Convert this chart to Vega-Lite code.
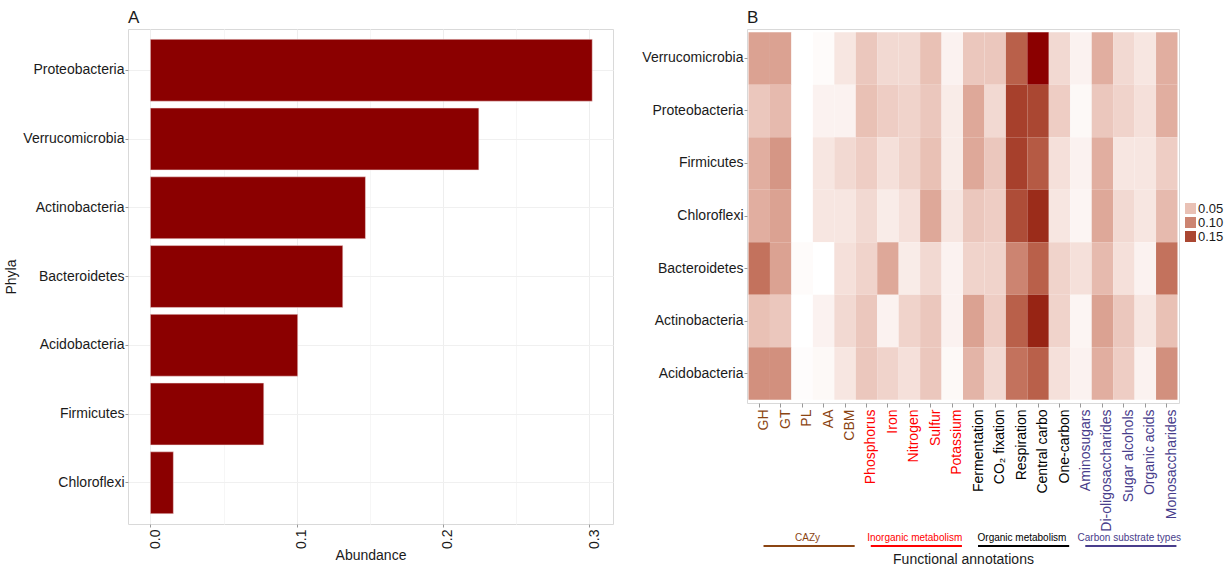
{
  "$schema": "https://vega.github.io/schema/vega-lite/v6.json",
  "background": "white",
  "padding": {"left": 4, "top": 8, "right": 0, "bottom": 0},
  "config": {
    "font": "Liberation Sans",
    "view": {"stroke": "#D9D9D9", "strokeWidth": 1},
    "axis": {"labelColor": "#1a1a1a", "titleColor": "#1a1a1a", "titleFontWeight": "normal", "tickColor": "#999999", "tickSize": 3, "domain": false},
    "title": {"fontWeight": "normal", "color": "#1a1a1a", "fontSize": 17, "anchor": "start", "frame": "group"}
  },
  "hconcat": [
    {
      "width": 485,
      "height": 495,
      "title": {"text": "A", "offset": 2},
      "data": {"values": [
        {"phylum": "Proteobacteria", "abundance": 0.302},
        {"phylum": "Verrucomicrobia", "abundance": 0.2245},
        {"phylum": "Actinobacteria", "abundance": 0.147},
        {"phylum": "Bacteroidetes", "abundance": 0.1315},
        {"phylum": "Acidobacteria", "abundance": 0.1007},
        {"phylum": "Firmicutes", "abundance": 0.0775},
        {"phylum": "Chloroflexi", "abundance": 0.0157}
      ]},
      "mark": {"type": "bar", "color": "#8B0000", "stroke": "#f3dede", "strokeWidth": 0.5},
      "encoding": {
        "y": {
          "field": "phylum", "type": "nominal",
          "sort": ["Proteobacteria", "Verrucomicrobia", "Actinobacteria", "Bacteroidetes", "Acidobacteria", "Firmicutes", "Chloroflexi"],
          "scale": {"paddingInner": 0.1, "paddingOuter": 0.15},
          "axis": {"title": "Phyla", "titleFontSize": 14, "labelFontSize": 14, "labelPadding": 1, "titlePadding": 4, "grid": true, "gridColor": "#F0F0F0"}
        },
        "x": {
          "field": "abundance", "type": "quantitative",
          "scale": {"domain": [-0.0153, 0.3162], "nice": false, "zero": false},
          "axis": {
            "title": "Abundance", "titleFontSize": 14, "titlePadding": 0,
            "values": [0, 0.05, 0.1, 0.15, 0.2, 0.25, 0.3],
            "labelExpr": "round(datum.value*100) % 10 === 0 ? format(datum.value, '.1f') : ''",
            "labelAngle": -90, "labelFontSize": 14, "labelPadding": 2, "labelOffset": 5,
            "grid": true,
            "gridColor": {"condition": {"test": "round(datum.value*100) % 10 === 0", "value": "#EEEEEE"}, "value": "#F6F6F6"},
            "tickColor": {"condition": {"test": "round(datum.value*100) % 10 === 0", "value": "#999999"}, "value": "transparent"}
          }
        }
      }
    },
    {
      "spacing": 1,
      "vconcat": [
        {
          "width": 432,
          "height": 374,
          "title": {"text": "B", "offset": 2},
          "data": {"values": [
            {"p":"Verrucomicrobia","f":"GH","v":0.075},{"p":"Verrucomicrobia","f":"GT","v":0.075},{"p":"Verrucomicrobia","f":"PL","v":0.0},{"p":"Verrucomicrobia","f":"AA","v":0.003},{"p":"Verrucomicrobia","f":"CBM","v":0.02},{"p":"Verrucomicrobia","f":"Phosphorus","v":0.045},{"p":"Verrucomicrobia","f":"Iron","v":0.03},{"p":"Verrucomicrobia","f":"Nitrogen","v":0.03},{"p":"Verrucomicrobia","f":"Sulfur","v":0.05},{"p":"Verrucomicrobia","f":"Potassium","v":0.01},{"p":"Verrucomicrobia","f":"Fermentation","v":0.045},{"p":"Verrucomicrobia","f":"CO₂ fixation","v":0.045},{"p":"Verrucomicrobia","f":"Respiration","v":0.13},{"p":"Verrucomicrobia","f":"Central carbo","v":0.19},{"p":"Verrucomicrobia","f":"One-carbon","v":0.03},{"p":"Verrucomicrobia","f":"Aminosugars","v":0.01},{"p":"Verrucomicrobia","f":"Di-oligosaccharides","v":0.065},{"p":"Verrucomicrobia","f":"Sugar alcohols","v":0.03},{"p":"Verrucomicrobia","f":"Organic acids","v":0.02},{"p":"Verrucomicrobia","f":"Monosaccharides","v":0.065},
            {"p":"Proteobacteria","f":"GH","v":0.045},{"p":"Proteobacteria","f":"GT","v":0.055},{"p":"Proteobacteria","f":"PL","v":0.0},{"p":"Proteobacteria","f":"AA","v":0.01},{"p":"Proteobacteria","f":"CBM","v":0.01},{"p":"Proteobacteria","f":"Phosphorus","v":0.05},{"p":"Proteobacteria","f":"Iron","v":0.04},{"p":"Proteobacteria","f":"Nitrogen","v":0.035},{"p":"Proteobacteria","f":"Sulfur","v":0.045},{"p":"Proteobacteria","f":"Potassium","v":0.015},{"p":"Proteobacteria","f":"Fermentation","v":0.07},{"p":"Proteobacteria","f":"CO₂ fixation","v":0.03},{"p":"Proteobacteria","f":"Respiration","v":0.155},{"p":"Proteobacteria","f":"Central carbo","v":0.15},{"p":"Proteobacteria","f":"One-carbon","v":0.04},{"p":"Proteobacteria","f":"Aminosugars","v":0.005},{"p":"Proteobacteria","f":"Di-oligosaccharides","v":0.045},{"p":"Proteobacteria","f":"Sugar alcohols","v":0.035},{"p":"Proteobacteria","f":"Organic acids","v":0.025},{"p":"Proteobacteria","f":"Monosaccharides","v":0.065},
            {"p":"Firmicutes","f":"GH","v":0.065},{"p":"Firmicutes","f":"GT","v":0.085},{"p":"Firmicutes","f":"PL","v":0.0},{"p":"Firmicutes","f":"AA","v":0.02},{"p":"Firmicutes","f":"CBM","v":0.03},{"p":"Firmicutes","f":"Phosphorus","v":0.04},{"p":"Firmicutes","f":"Iron","v":0.025},{"p":"Firmicutes","f":"Nitrogen","v":0.035},{"p":"Firmicutes","f":"Sulfur","v":0.05},{"p":"Firmicutes","f":"Potassium","v":0.015},{"p":"Firmicutes","f":"Fermentation","v":0.07},{"p":"Firmicutes","f":"CO₂ fixation","v":0.045},{"p":"Firmicutes","f":"Respiration","v":0.155},{"p":"Firmicutes","f":"Central carbo","v":0.135},{"p":"Firmicutes","f":"One-carbon","v":0.025},{"p":"Firmicutes","f":"Aminosugars","v":0.01},{"p":"Firmicutes","f":"Di-oligosaccharides","v":0.065},{"p":"Firmicutes","f":"Sugar alcohols","v":0.02},{"p":"Firmicutes","f":"Organic acids","v":0.02},{"p":"Firmicutes","f":"Monosaccharides","v":0.04},
            {"p":"Chloroflexi","f":"GH","v":0.065},{"p":"Chloroflexi","f":"GT","v":0.075},{"p":"Chloroflexi","f":"PL","v":0.0},{"p":"Chloroflexi","f":"AA","v":0.02},{"p":"Chloroflexi","f":"CBM","v":0.02},{"p":"Chloroflexi","f":"Phosphorus","v":0.03},{"p":"Chloroflexi","f":"Iron","v":0.015},{"p":"Chloroflexi","f":"Nitrogen","v":0.025},{"p":"Chloroflexi","f":"Sulfur","v":0.07},{"p":"Chloroflexi","f":"Potassium","v":0.02},{"p":"Chloroflexi","f":"Fermentation","v":0.045},{"p":"Chloroflexi","f":"CO₂ fixation","v":0.04},{"p":"Chloroflexi","f":"Respiration","v":0.145},{"p":"Chloroflexi","f":"Central carbo","v":0.17},{"p":"Chloroflexi","f":"One-carbon","v":0.02},{"p":"Chloroflexi","f":"Aminosugars","v":0.008},{"p":"Chloroflexi","f":"Di-oligosaccharides","v":0.07},{"p":"Chloroflexi","f":"Sugar alcohols","v":0.03},{"p":"Chloroflexi","f":"Organic acids","v":0.02},{"p":"Chloroflexi","f":"Monosaccharides","v":0.055},
            {"p":"Bacteroidetes","f":"GH","v":0.115},{"p":"Bacteroidetes","f":"GT","v":0.075},{"p":"Bacteroidetes","f":"PL","v":0.003},{"p":"Bacteroidetes","f":"AA","v":0.0},{"p":"Bacteroidetes","f":"CBM","v":0.025},{"p":"Bacteroidetes","f":"Phosphorus","v":0.035},{"p":"Bacteroidetes","f":"Iron","v":0.07},{"p":"Bacteroidetes","f":"Nitrogen","v":0.015},{"p":"Bacteroidetes","f":"Sulfur","v":0.03},{"p":"Bacteroidetes","f":"Potassium","v":0.01},{"p":"Bacteroidetes","f":"Fermentation","v":0.035},{"p":"Bacteroidetes","f":"CO₂ fixation","v":0.035},{"p":"Bacteroidetes","f":"Respiration","v":0.1},{"p":"Bacteroidetes","f":"Central carbo","v":0.13},{"p":"Bacteroidetes","f":"One-carbon","v":0.035},{"p":"Bacteroidetes","f":"Aminosugars","v":0.025},{"p":"Bacteroidetes","f":"Di-oligosaccharides","v":0.055},{"p":"Bacteroidetes","f":"Sugar alcohols","v":0.025},{"p":"Bacteroidetes","f":"Organic acids","v":0.01},{"p":"Bacteroidetes","f":"Monosaccharides","v":0.115},
            {"p":"Actinobacteria","f":"GH","v":0.05},{"p":"Actinobacteria","f":"GT","v":0.045},{"p":"Actinobacteria","f":"PL","v":0.0},{"p":"Actinobacteria","f":"AA","v":0.01},{"p":"Actinobacteria","f":"CBM","v":0.03},{"p":"Actinobacteria","f":"Phosphorus","v":0.045},{"p":"Actinobacteria","f":"Iron","v":0.01},{"p":"Actinobacteria","f":"Nitrogen","v":0.035},{"p":"Actinobacteria","f":"Sulfur","v":0.045},{"p":"Actinobacteria","f":"Potassium","v":0.01},{"p":"Actinobacteria","f":"Fermentation","v":0.075},{"p":"Actinobacteria","f":"CO₂ fixation","v":0.04},{"p":"Actinobacteria","f":"Respiration","v":0.13},{"p":"Actinobacteria","f":"Central carbo","v":0.175},{"p":"Actinobacteria","f":"One-carbon","v":0.035},{"p":"Actinobacteria","f":"Aminosugars","v":0.008},{"p":"Actinobacteria","f":"Di-oligosaccharides","v":0.075},{"p":"Actinobacteria","f":"Sugar alcohols","v":0.045},{"p":"Actinobacteria","f":"Organic acids","v":0.02},{"p":"Actinobacteria","f":"Monosaccharides","v":0.05},
            {"p":"Acidobacteria","f":"GH","v":0.09},{"p":"Acidobacteria","f":"GT","v":0.09},{"p":"Acidobacteria","f":"PL","v":0.002},{"p":"Acidobacteria","f":"AA","v":0.005},{"p":"Acidobacteria","f":"CBM","v":0.02},{"p":"Acidobacteria","f":"Phosphorus","v":0.045},{"p":"Acidobacteria","f":"Iron","v":0.035},{"p":"Acidobacteria","f":"Nitrogen","v":0.025},{"p":"Acidobacteria","f":"Sulfur","v":0.045},{"p":"Acidobacteria","f":"Potassium","v":0.005},{"p":"Acidobacteria","f":"Fermentation","v":0.06},{"p":"Acidobacteria","f":"CO₂ fixation","v":0.03},{"p":"Acidobacteria","f":"Respiration","v":0.115},{"p":"Acidobacteria","f":"Central carbo","v":0.13},{"p":"Acidobacteria","f":"One-carbon","v":0.025},{"p":"Acidobacteria","f":"Aminosugars","v":0.01},{"p":"Acidobacteria","f":"Di-oligosaccharides","v":0.065},{"p":"Acidobacteria","f":"Sugar alcohols","v":0.04},{"p":"Acidobacteria","f":"Organic acids","v":0.01},{"p":"Acidobacteria","f":"Monosaccharides","v":0.09}
          ]},
          "mark": {"type": "rect"},
          "encoding": {
            "x": {
              "field": "f", "type": "nominal",
              "scale": {"domain": ["GH","GT","PL","AA","CBM","Phosphorus","Iron","Nitrogen","Sulfur","Potassium","Fermentation","CO₂ fixation","Respiration","Central carbo","One-carbon","Aminosugars","Di-oligosaccharides","Sugar alcohols","Organic acids","Monosaccharides"], "paddingInner": 0, "paddingOuter": 0.07},
              "axis": {
                "title": null, "labelAngle": -90, "labelFontSize": 14, "labelPadding": 2, "labelOffset": 5, "tickSize": 4,
                "labelColor": {"condition": [
                  {"test": "indexof(['GH','GT','PL','AA','CBM'], datum.value) >= 0", "value": "#8B4513"},
                  {"test": "indexof(['Phosphorus','Iron','Nitrogen','Sulfur','Potassium'], datum.value) >= 0", "value": "#FF0000"},
                  {"test": "indexof(['Aminosugars','Di-oligosaccharides','Sugar alcohols','Organic acids','Monosaccharides'], datum.value) >= 0", "value": "#483D8B"}
                ], "value": "#000000"}
              }
            },
            "y": {
              "field": "p", "type": "nominal",
              "scale": {"domain": ["Verrucomicrobia","Proteobacteria","Firmicutes","Chloroflexi","Bacteroidetes","Actinobacteria","Acidobacteria"], "paddingInner": 0, "paddingOuter": 0.06},
              "axis": {"title": null, "labelFontSize": 14, "labelPadding": 1, "tickSize": 3}
            },
            "color": {
              "field": "v", "type": "quantitative",
              "scale": {"domain": [0, 0.19], "range": ["#FFFFFF", "#8B0000"], "interpolate": "lab"},
              "legend": {
                "type": "symbol", "title": null, "values": [0.05, 0.1, 0.15], "format": ".2f",
                "symbolType": "square", "symbolSize": 121, "symbolStrokeWidth": 0, "symbolOpacity": 1,
                "labelFontSize": 13, "labelOffset": 1, "rowPadding": -4, "labelColor": "#1a1a1a",
                "orient": "none", "legendX": 437, "legendY": 173
              }
            }
          }
        },
        {
          "width": 432,
          "height": 16,
          "view": {"stroke": null},
          "data": {"values": [
            {"g": "CAZy", "a": "GH", "m": "PL", "b": "CBM"},
            {"g": "Inorganic metabolism", "a": "Phosphorus", "m": "Nitrogen", "b": "Potassium"},
            {"g": "Organic metabolism", "a": "Fermentation", "m": "Respiration", "b": "One-carbon"},
            {"g": "Carbon substrate types", "a": "Aminosugars", "m": "Sugar alcohols", "b": "Monosaccharides"}
          ]},
          "layer": [
            {
              "mark": {"type": "rule", "strokeWidth": 2},
              "encoding": {
                "x": {
                  "field": "a", "type": "nominal", "bandPosition": 0.7,
                  "scale": {"domain": ["GH","GT","PL","AA","CBM","Phosphorus","Iron","Nitrogen","Sulfur","Potassium","Fermentation","CO₂ fixation","Respiration","Central carbo","One-carbon","Aminosugars","Di-oligosaccharides","Sugar alcohols","Organic acids","Monosaccharides"], "paddingInner": 0, "paddingOuter": 0.07},
                  "axis": {"title": "Functional annotations", "titleFontSize": 14, "titlePadding": 2, "labels": false, "ticks": false, "domain": false, "grid": false}
                },
                "x2": {"field": "b", "bandPosition": 0.95},
                "y": {"datum": "line", "type": "nominal", "scale": {"type": "point", "domain": ["label", "line"], "padding": 0.5}, "axis": null},
                "color": {"field": "g", "type": "nominal", "scale": {"domain": ["CAZy", "Inorganic metabolism", "Organic metabolism", "Carbon substrate types"], "range": ["#8B4513", "#FF0000", "#000000", "#483D8B"]}, "legend": null}
              }
            },
            {
              "mark": {"type": "text", "fontSize": 10, "baseline": "middle"},
              "encoding": {
                "x": {"field": "m", "type": "nominal", "bandPosition": 0.75},
                "y": {"datum": "label", "type": "nominal"},
                "text": {"field": "g"},
                "color": {"field": "g", "type": "nominal", "legend": null}
              }
            }
          ]
        }
      ]
    }
  ],
  "spacing": 27
}
